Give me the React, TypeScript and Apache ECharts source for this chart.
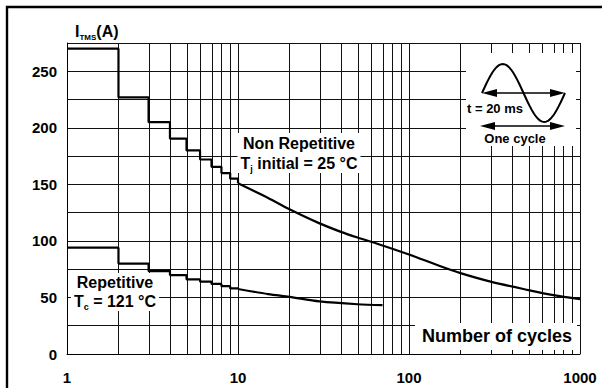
import React, { useEffect, useRef } from "react";
import * as echarts from "echarts";

// ---- data ----
const nonRepStepCycles = [1, 2, 3, 4, 5, 6, 7, 8, 9, 10];
const nonRepStepCurrent = [270, 227, 205, 190.5, 180, 172, 165.5, 160, 155, 151];
const nonRepCurveCycles = [10, 15, 20, 30, 40, 50, 70, 100, 150, 200, 300, 500, 700, 1000];
const nonRepCurveCurrent = [151, 138, 128, 115.5, 108, 103, 96, 88, 78, 71.5, 64, 56.5, 52, 48.5];
const repStepCycles = [1, 2, 3, 4, 5, 6, 7, 8, 9, 10];
const repStepCurrent = [94, 80, 73.3, 69.8, 66, 64, 62, 60, 58, 57.5];
const repCurveCycles = [10, 15, 20, 30, 50, 70];
const repCurveCurrent = [57.5, 53, 50.5, 46.5, 44, 43.2];
const minorGridCycles = [2, 3, 4, 5, 6, 7, 8, 9, 20, 30, 40, 50, 60, 70, 80, 90, 200, 300, 400, 500, 600, 700, 800, 900];
const yLabelValues = [0, 50, 100, 150, 200, 250];

const F = "'Liberation Sans', Arial, Helvetica, sans-serif";

function zip(xs: number[], ys: number[]) {
  return xs.map((x, i) => [x, ys[i]]);
}

export default function App() {
  const ref = useRef<HTMLDivElement>(null);
  useEffect(() => {
    if (!ref.current) return;
    const chart = echarts.init(ref.current, undefined, { renderer: "svg" });

    // sine icon (decoration only)
    const sinePts: number[][] = [];
    for (let i = 0; i <= 40; i++) {
      const t = i / 40;
      sinePts.push([482 + 83 * t, 93 - 29 * Math.sin(2 * Math.PI * t)]);
    }
    const arrow = (y: number, x1: number, x2: number) => [
      { type: "line", z: 6, shape: { x1: x1 + 6, y1: y, x2: x2 - 6, y2: y }, style: { stroke: "#000", lineWidth: 1.3 } },
      { type: "polygon", z: 6, shape: { points: [[x1, y], [x1 + 15, y - 4], [x1 + 15, y + 4]] }, style: { fill: "#000" } },
      { type: "polygon", z: 6, shape: { points: [[x2, y], [x2 - 15, y - 4], [x2 - 15, y + 4]] }, style: { fill: "#000" } },
    ];

    const lineStyle = { color: "#000", width: 2.2 };

    chart.setOption({
      animation: false,
      grid: { left: 67, top: 43, width: 513, height: 311, containLabel: false },
      xAxis: {
        type: "log",
        logBase: 10,
        min: 1,
        max: 1000,
        axisLine: { show: true, lineStyle: { color: "#000", width: 1 } },
        axisTick: { show: false },
        splitLine: { show: true, lineStyle: { color: "#111", width: 1 } },
        axisLabel: {
          color: "#000",
          fontFamily: F,
          fontWeight: "bold",
          fontSize: 15,
          margin: 16,
          formatter: (v: number) => String(Math.round(v)),
        },
      },
      yAxis: {
        type: "value",
        min: 0,
        max: 275,
        interval: 25,
        axisLine: { show: true, lineStyle: { color: "#000", width: 1 } },
        axisTick: { show: false },
        splitLine: { show: true, lineStyle: { color: "#111", width: 1 } },
        axisLabel: {
          color: "#000",
          fontFamily: F,
          fontWeight: "bold",
          fontSize: 15,
          margin: 10,
          formatter: (v: number) => (yLabelValues.indexOf(Math.round(v)) >= 0 ? String(Math.round(v)) : ""),
        },
      },
      series: [
        {
          type: "custom",
          z: 1,
          silent: true,
          clip: false,
          data: minorGridCycles.map((c) => [c, 0]),
          encode: { x: 0, y: 1 },
          renderItem: (params: any, api: any) => {
            const x = api.value(0);
            const p0 = api.coord([x, 0]);
            const p1 = api.coord([x, 275]);
            const px = Math.round(p0[0]) + 0.5;
            return {
              type: "line",
              shape: { x1: px, y1: p0[1], x2: px, y2: p1[1] },
              style: { stroke: "#111", lineWidth: 1 },
            };
          },
        },
        { type: "line", z: 5, step: "end", symbol: "none", data: zip(nonRepStepCycles, nonRepStepCurrent), lineStyle },
        { type: "line", z: 5, smooth: 0.3, symbol: "none", data: zip(nonRepCurveCycles, nonRepCurveCurrent), lineStyle },
        { type: "line", z: 5, step: "end", symbol: "none", data: zip(repStepCycles, repStepCurrent), lineStyle },
        { type: "line", z: 5, smooth: 0.3, symbol: "none", data: zip(repCurveCycles, repCurveCurrent), lineStyle },
      ],
      graphic: [
        { type: "rect", z: 10, shape: { x: 7, y: 7, width: 700, height: 500 }, style: { fill: "none", stroke: "#000", lineWidth: 2.4 } },
        { type: "rect", z: 3, shape: { x: 466, y: 53, width: 110, height: 93 }, style: { fill: "#fff" } },
        { type: "rect", z: 3, shape: { x: 415, y: 323, width: 162, height: 27 }, style: { fill: "#fff" } },
        {
          type: "text",
          z: 6,
          x: 299,
          y: 153,
          style: {
            text: "{a|Non Repetitive}\n{a|T}{s|j}{a| initial = 25 °C}",
            align: "center",
            verticalAlign: "middle",
            backgroundColor: "#fff",
            padding: [0, 3],
            rich: {
              a: { fontSize: 16, fontWeight: "bold", fontFamily: F, lineHeight: 20, fill: "#000" },
              s: { fontSize: 9, fontWeight: "bold", fontFamily: F, lineHeight: 10, verticalAlign: "bottom", fill: "#000" },
            },
          },
        },
        {
          type: "text",
          z: 6,
          x: 115,
          y: 292,
          style: {
            text: "{a|Repetitive}\n{a|T}{s|c}{a| = 121 °C}",
            align: "center",
            verticalAlign: "middle",
            backgroundColor: "#fff",
            padding: [0, 3],
            rich: {
              a: { fontSize: 16, fontWeight: "bold", fontFamily: F, lineHeight: 19, fill: "#000" },
              s: { fontSize: 9, fontWeight: "bold", fontFamily: F, lineHeight: 10, verticalAlign: "bottom", fill: "#000" },
            },
          },
        },
        {
          type: "text",
          z: 6,
          x: 75,
          y: 31,
          style: {
            text: "{a|I}{s|TMS}{a|(A)}",
            verticalAlign: "middle",
            rich: {
              a: { fontSize: 16, fontWeight: "bold", fontFamily: F, lineHeight: 20, fill: "#000" },
              s: { fontSize: 8, fontWeight: "bold", fontFamily: F, lineHeight: 10, verticalAlign: "bottom", fill: "#000" },
            },
          },
        },
        {
          type: "text",
          z: 6,
          x: 422,
          y: 336,
          style: { text: "Number of cycles", fontSize: 18, fontWeight: "bold", fontFamily: F, fill: "#000", verticalAlign: "middle" },
        },
        { type: "polyline", z: 6, shape: { points: sinePts }, style: { stroke: "#000", lineWidth: 2, fill: "none" } },
        ...arrow(93, 482, 565),
        ...arrow(126, 480, 565),
        {
          type: "text",
          z: 6,
          x: 467,
          y: 108,
          style: { text: "t = 20 ms", fontSize: 13, fontWeight: "bold", fontFamily: F, fill: "#000", verticalAlign: "middle" },
        },
        {
          type: "text",
          z: 6,
          x: 515,
          y: 138,
          style: { text: "One cycle", fontSize: 13, fontWeight: "bold", fontFamily: F, fill: "#000", align: "center", verticalAlign: "middle" },
        },
      ],
    });
    return () => chart.dispose();
  }, []);
  return <div ref={ref} style={{ position: "absolute", left: 0, top: 0, width: 602, height: 388, background: "#fff" }} />;
}
